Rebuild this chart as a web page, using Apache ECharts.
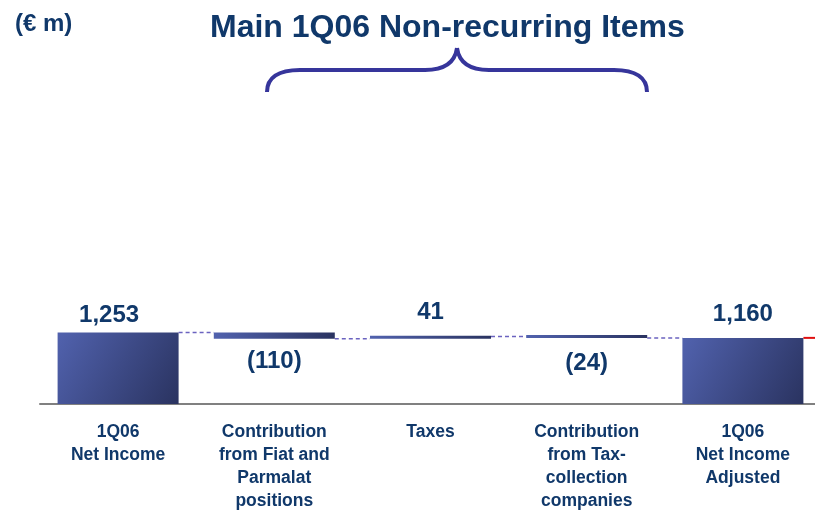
<!DOCTYPE html>
<html>
<head>
<meta charset="utf-8">
<script src="https://cdn.jsdelivr.net/npm/echarts@6/dist/echarts.min.js"></script>
<style>
  html, body { margin: 0; padding: 0; background: #fff; }
  #main { width: 815px; height: 512px; }
</style>
</head>
<body>
<div id="main"></div>
<script>
  // data
  var categories = [
    '1Q06\nNet Income',
    'Contribution\nfrom Fiat and\nParmalat\npositions',
    'Taxes',
    'Contribution\nfrom Tax-\ncollection\ncompanies',
    '1Q06\nNet Income\nAdjusted'
  ];
  var changes = [1253, -110, 41, -24, 1160];
  var isTotal = [true, false, false, false, true];
  var valueLabels = ['1,253', '(110)', '41', '(24)', '1,160'];

  var navy = '#10386a';
  var font = "'Liberation Sans', Arial, sans-serif";
  var barW = 121;

  // waterfall: invisible base + visible piece
  var base = [], piece = [], levels = [];
  var running = 0;
  changes.forEach(function (v, i) {
    if (isTotal[i]) {
      base.push(0);
      piece.push(v);
      running = v;
    } else {
      var next = running + v;
      base.push(Math.min(running, next));
      piece.push(Math.abs(v));
      running = next;
    }
    levels.push(running);
  });

  var gaps = [5, 11, 11, 13, 12];
  var pieceData = piece.map(function (v, i) {
    var neg = changes[i] < 0;
    return {
      value: v,
      label: {
        show: true,
        position: neg ? 'bottom' : 'top',
        distance: gaps[i],
        offset: i === 0 ? [-9, 0] : [0, 0],
        formatter: valueLabels[i]
      }
    };
  });

  // connectors: dashed from bar i to bar i+1, red stub after the last bar
  var connData = levels.map(function (l, i) { return [i, l]; });

  var braceStyle = { fill: 'none', stroke: '#36359b', lineWidth: 4 };
  function curve(x1, y1, cx1, cy1, cx2, cy2, x2, y2) {
    return { type: 'bezierCurve', shape: { x1: x1, y1: y1, cpx1: cx1, cpy1: cy1, cpx2: cx2, cpy2: cy2, x2: x2, y2: y2 }, style: braceStyle };
  }
  function seg(x1, y1, x2, y2) {
    return { type: 'line', shape: { x1: x1, y1: y1, x2: x2, y2: y2 }, style: braceStyle };
  }

  var chart = echarts.init(document.getElementById('main'));
  chart.setOption({
    animation: false,
    title: [{
      text: 'Main 1Q06 Non-recurring Items',
      left: 205,
      top: 7,
      textStyle: { color: navy, fontSize: 32, fontWeight: 'bold', fontFamily: font }
    }, {
      text: '(€ m)',
      left: 10,
      top: 7,
      textStyle: { color: navy, fontSize: 24, fontWeight: 'bold', fontFamily: font }
    }],
    graphic: [
      curve(267, 92, 267, 78, 278, 70, 300, 70),
      seg(299, 70, 426, 70),
      curve(425, 70, 445, 70, 455, 62, 457, 48),
      curve(457, 48, 459, 62, 469, 70, 489, 70),
      seg(488, 70, 615, 70),
      curve(614, 70, 636, 70, 647, 78, 647, 92)
    ],
    grid: { left: 40, width: 781, top: 233, bottom: 108, outerBoundsMode: 'none' },
    xAxis: {
      type: 'category',
      data: categories,
      axisTick: { show: false },
      axisLine: { lineStyle: { color: '#808080', width: 2 } },
      axisLabel: {
        interval: 0,
        margin: 17,
        color: navy,
        fontSize: 17.5,
        fontWeight: 'bold',
        fontFamily: font,
        lineHeight: 23
      }
    },
    yAxis: {
      type: 'value',
      min: 0,
      max: 3000,
      show: false,
      splitLine: { show: false }
    },
    series: [{
      type: 'bar',
      stack: 'wf',
      barWidth: barW,
      itemStyle: { color: 'transparent' },
      silent: true,
      data: base
    }, {
      type: 'bar',
      stack: 'wf',
      barWidth: barW,
      barMinHeight: 3,
      itemStyle: {
        color: {
          type: 'linear', x: 0, y: 0, x2: 1, y2: 1,
          colorStops: [
            { offset: 0, color: '#5162ae' },
            { offset: 1, color: '#2a3360' }
          ]
        }
      },
      label: {
        color: navy,
        fontSize: 24,
        fontWeight: 'bold',
        fontFamily: font
      },
      data: pieceData
    }, {
      type: 'custom',
      silent: true,
      z: 1,
      data: connData,
      renderItem: function (params, api) {
        var i = api.value(0);
        var lvl = api.value(1);
        var p = api.coord([i, lvl]);
        var band = api.size([1, 0])[0];
        var x1 = p[0] + barW / 2;
        var last = i === categories.length - 1;
        var x2 = last ? p[0] + band / 2 : api.coord([i + 1, lvl])[0] - barW / 2;
        return {
          type: 'line',
          shape: { x1: x1, y1: p[1], x2: x2, y2: p[1] },
          style: last
            ? { stroke: '#e01010', lineWidth: 2 }
            : { stroke: '#6b63c0', lineWidth: 1.5, lineDash: [4, 3] }
        };
      }
    }]
  });
</script>
</body>
</html>
